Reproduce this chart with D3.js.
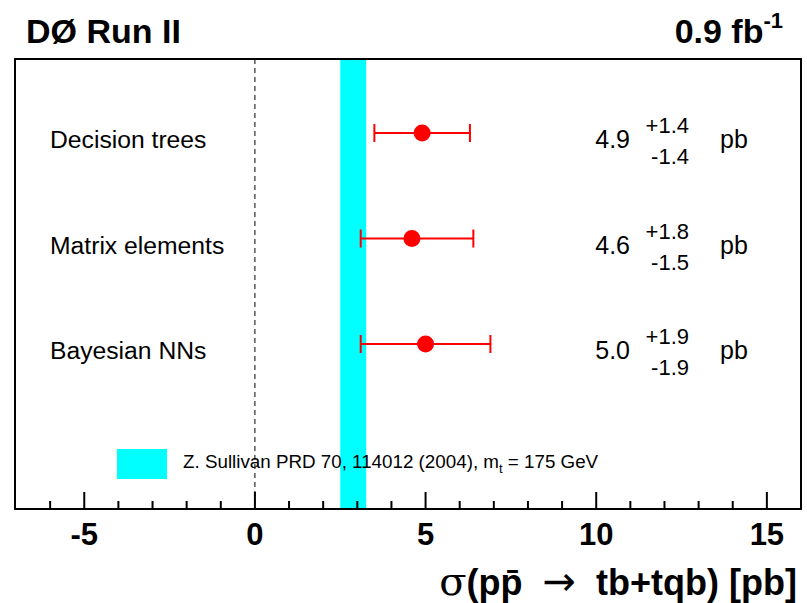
<!DOCTYPE html>
<html>
<head>
<meta charset="utf-8">
<script src="https://cdn.jsdelivr.net/npm/d3@7"></script>
<style>
  html, body { margin: 0; padding: 0; background: #fff; }
  svg { display: block; font-family: "Liberation Sans", Arial, Helvetica, sans-serif; }
</style>
</head>
<body>
<div id="chart"></div>
<script>
// ── Data ──
const methods = ['Decision trees', 'Matrix elements', 'Bayesian NNs'];
const centralValues = [4.9, 4.6, 5.0];
const errUp = [1.4, 1.8, 1.9];
const errDown = [1.4, 1.5, 1.9];
const xTicks = [-5, 0, 5, 10, 15];
const theoryCenter = 2.88;
const theoryErr = 0.38;
const theoryLabel = 'Z. Sullivan PRD 70, 114012 (2004), m';

const W = 807, H = 603;
const FRAME = { left: 15, right: 801, top: 59, bottom: 509 };

const svg = d3.select('#chart').append('svg')
  .attr('width', W)
  .attr('height', H);

const x = d3.scaleLinear().domain([-7, 16]).range([FRAME.left + 1, FRAME.right]);
const y = d3.scalePoint().domain(methods).range([133, 344]);

const rows = methods.map((m, i) => ({
  name: m, v: centralValues[i], up: errUp[i], dn: errDown[i]
}));

// theory band
svg.append('rect')
  .attr('x', x(theoryCenter - theoryErr))
  .attr('y', FRAME.top)
  .attr('width', x(theoryCenter + theoryErr) - x(theoryCenter - theoryErr))
  .attr('height', FRAME.bottom - FRAME.top)
  .attr('fill', '#00ffff');

// dashed zero line
svg.append('line')
  .attr('x1', x(0)).attr('x2', x(0))
  .attr('y1', FRAME.top).attr('y2', FRAME.bottom)
  .attr('stroke', '#000')
  .attr('stroke-width', 1)
  .attr('stroke-dasharray', '5,4');

// ── Bottom axis ticks (pointing up) ──
const axis = svg.append('g').attr('transform', `translate(0,${FRAME.bottom})`);
axis.selectAll('line.minor')
  .data(d3.range(-6, 16))
  .enter().append('line')
  .attr('x1', d => x(d)).attr('x2', d => x(d))
  .attr('y1', 0)
  .attr('y2', d => d % 5 === 0 ? -17 : -8)
  .attr('stroke', '#000')
  .attr('stroke-width', 2);

axis.selectAll('text')
  .data(xTicks)
  .enter().append('text')
  .attr('x', d => x(d))
  .attr('y', 36)
  .attr('text-anchor', 'middle')
  .attr('font-size', 31)
  .attr('font-weight', 700)
  .text(d => d);

// frame
svg.append('rect')
  .attr('x', FRAME.left)
  .attr('y', FRAME.top)
  .attr('width', FRAME.right - FRAME.left)
  .attr('height', FRAME.bottom - FRAME.top)
  .attr('fill', 'none')
  .attr('stroke', '#000')
  .attr('stroke-width', 2);

// ── Measurements ──
const g = svg.selectAll('g.row')
  .data(rows)
  .enter().append('g')
  .attr('class', 'row')
  .attr('transform', d => `translate(0,${y(d.name)})`);

g.append('line')
  .attr('x1', d => x(d.v - d.dn))
  .attr('x2', d => x(d.v + d.up))
  .attr('stroke', '#ff0000')
  .attr('stroke-width', 2);

g.append('line')
  .attr('x1', d => x(d.v - d.dn)).attr('x2', d => x(d.v - d.dn))
  .attr('y1', -9).attr('y2', 9)
  .attr('stroke', '#ff0000')
  .attr('stroke-width', 2);

g.append('line')
  .attr('x1', d => x(d.v + d.up)).attr('x2', d => x(d.v + d.up))
  .attr('y1', -9).attr('y2', 9)
  .attr('stroke', '#ff0000')
  .attr('stroke-width', 2);

g.append('circle')
  .attr('cx', d => x(d.v))
  .attr('r', 8.5)
  .attr('fill', '#ff0000');

g.append('text')
  .attr('x', 50)
  .attr('y', 15)
  .attr('font-size', 24.7)
  .text(d => d.name);

g.append('text')
  .attr('x', 630)
  .attr('y', 15)
  .attr('text-anchor', 'end')
  .attr('font-size', 25)
  .text(d => d.v.toFixed(1));

g.append('text')
  .attr('x', 689)
  .attr('y', 0)
  .attr('text-anchor', 'end')
  .attr('font-size', 22)
  .text(d => '+' + d.up.toFixed(1));

g.append('text')
  .attr('x', 689)
  .attr('y', 31)
  .attr('text-anchor', 'end')
  .attr('font-size', 22)
  .text(d => '-' + d.dn.toFixed(1));

g.append('text')
  .attr('x', 720)
  .attr('y', 15)
  .attr('font-size', 25)
  .text('pb');

// ── Legend ──
svg.append('rect')
  .attr('x', 117).attr('y', 449)
  .attr('width', 50).attr('height', 30)
  .attr('fill', '#00ffff');

const leg = svg.append('text')
  .attr('x', 183)
  .attr('y', 468)
  .attr('font-size', 18.8);
leg.append('tspan').text(theoryLabel);
leg.append('tspan').attr('dy', 5).attr('font-size', 13).text('t');
leg.append('tspan').attr('dy', -5).text(' = 175 GeV');

// ── Titles ──
svg.append('text')
  .attr('x', 26).attr('y', 43)
  .attr('font-size', 34)
  .attr('font-weight', 700)
  .text('DØ Run II');

const lumi = svg.append('text')
  .attr('x', 783).attr('y', 43)
  .attr('text-anchor', 'end')
  .attr('font-size', 34)
  .attr('font-weight', 700);
lumi.append('tspan').text('0.9 fb');
lumi.append('tspan').attr('dy', -15).attr('font-size', 22).text('-1');

const xt = svg.append('text')
  .attr('x', 797).attr('y', 595)
  .attr('text-anchor', 'end')
  .attr('font-size', 36)
  .attr('font-weight', 700)
  .style('white-space', 'pre');
xt.append('tspan').attr('font-weight', 400).attr('font-family', 'DejaVu Serif, serif').attr('font-size', 40).text('σ');
xt.append('tspan').text('(pp\u0304  ');
xt.append('tspan').attr('font-weight', 400).attr('font-family', 'DejaVu Sans, sans-serif').attr('font-size', 40).text('→');
xt.append('tspan').text('  tb+tqb) [pb]');
</script>
</body>
</html>
